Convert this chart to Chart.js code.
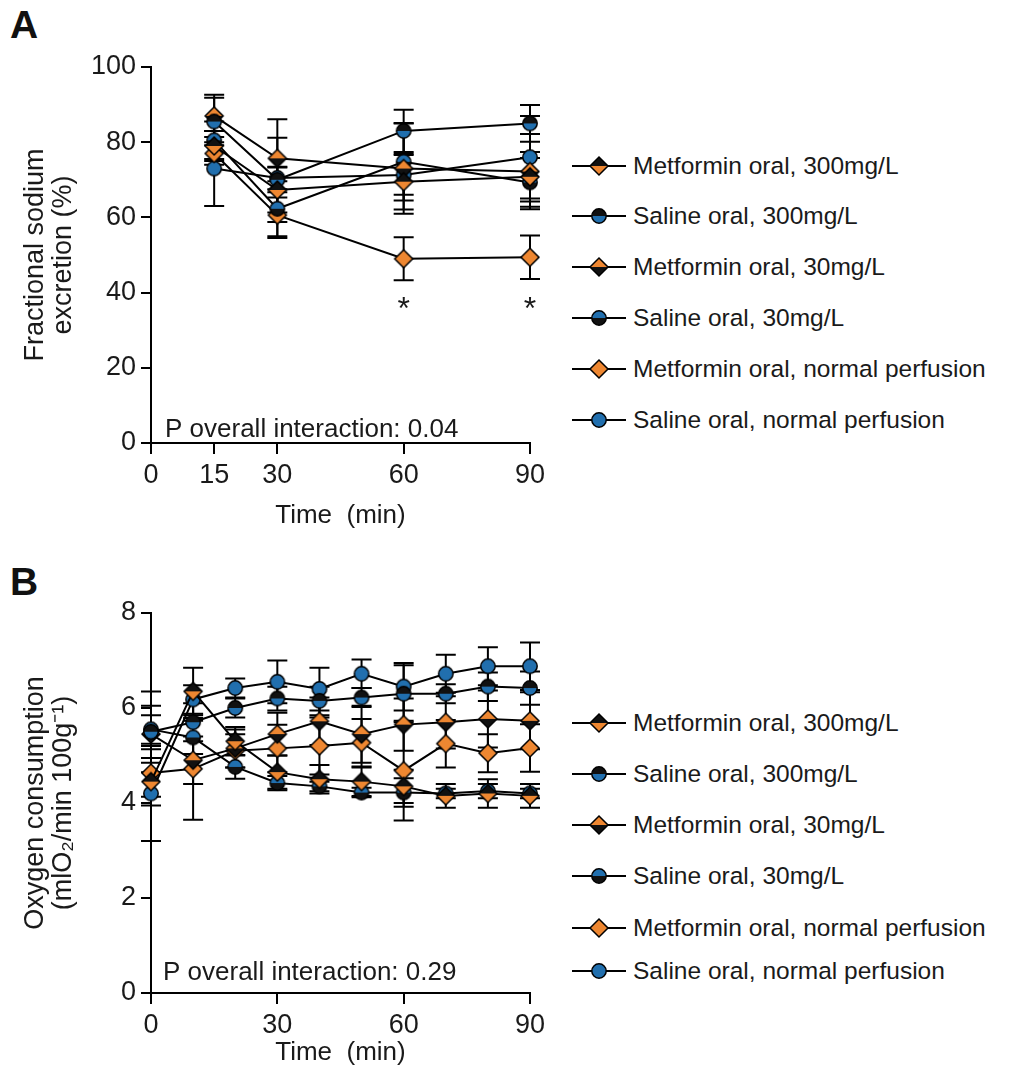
<!DOCTYPE html>
<html>
<head>
<meta charset="utf-8">
<script src="https://cdn.jsdelivr.net/npm/chart.js@4.4.1/dist/chart.umd.min.js"></script>
<style>
  body { margin: 0; background: #fff; }
  #page { position: relative; width: 1023px; height: 1078px; overflow: hidden; font-family: "Liberation Sans", Arial, sans-serif; color: #1a1a1a; }
  .panel-letter { position: absolute; left: 10px; font-weight: bold; font-size: 39px; line-height: 39px; color: #111; }
  .chart-box { position: absolute; left: 0; }
  .legend-row { position: absolute; left: 572px; height: 30px; }
  .legend-row canvas { position: absolute; left: 0; top: 0; }
  .legend-row span { position: absolute; left: 61px; top: 0; line-height: 30px; font-size: 24.5px; white-space: nowrap; }
</style>
</head>
<body>
<div id="page">
  <div class="panel-letter" style="top:5px">A</div>
  <div class="panel-letter" style="top:562px">B</div>
  <div class="chart-box" style="top:0"><canvas id="chartA" width="560" height="545"></canvas></div>
  <div class="chart-box" style="top:540px"><canvas id="chartB" width="560" height="538"></canvas></div>
  <div id="legendA"></div>
  <div id="legendB"></div>
</div>
<script>
// ---- data: panel A, fractional sodium excretion (%) ----
const timesA = [15, 30, 60, 90];
const xTicksA = [0, 15, 30, 60, 90];
const metf300A = [79, 67.3, 69.5, 70.8];
const sal300A = [85.5, 70, 83, 85];
const metf30A = [87, 75.7, 73, 72.2];
const sal30A = [80.5, 62.3, 74.8, 69.3];
const metfNormA = [77, 60.6, 49, 49.4];
const salNormA = [73, 70.5, 71.3, 76];
// SEM
const metf300ErrA = [4, 6, 7.4, 6.6];
const sal300ErrA = [6.3, 11.2, 5.6, 4.9];
const metf30ErrA = [5.6, 10.4, 12, 10];
const sal30ErrA = [5, 7.3, 10.3, 6.5];
const metfNormErrA = [3, 6.1, 5.7, 5.8];
const salNormErrA = [10, 3, 5.3, 11];
const starTimesA = [60, 90];
const starValueA = 33;

// ---- data: panel B, oxygen consumption ----
const timesB = [0, 10, 20, 30, 40, 50, 60, 70, 80, 90];
const metf300B = [4.45, 6.35, 5.3, 4.65, 4.5, 4.45, 4.35, 4.15, 4.2, 4.15];
const sal300B = [5.5, 5.7, 6.0, 6.2, 6.15, 6.22, 6.3, 6.3, 6.45, 6.42];
const metf30B = [5.45, 4.9, 5.15, 5.45, 5.72, 5.45, 5.65, 5.7, 5.77, 5.73];
const sal30B = [5.55, 5.38, 4.76, 4.42, 4.35, 4.22, 4.22, 4.2, 4.25, 4.2];
const metfNormB = [4.63, 4.72, 5.1, 5.15, 5.2, 5.27, 4.68, 5.25, 5.05, 5.16];
const salNormB = [4.2, 6.18, 6.42, 6.55, 6.4, 6.72, 6.45, 6.72, 6.88, 6.88];
const metf300ErrB = [0.5, 0.5, 0.3, 0.35, 0.3, 0.3, 0.35, 0.25, 0.3, 0.25];
const sal300ErrB = [0.85, 0.4, 0.2, 0.25, 0.3, 0.2, 0.6, 0.2, 0.3, 0.35];
const metf30ErrB = [0.6, 0.5, 0.4, 0.45, 0.5, 0.6, 0.55, 0.55, 0.6, 0.6];
const sal30ErrB = [0.3, 0.35, 0.25, 0.15, 0.1, 0.1, 0.3, 0.1, 0.15, 0.1];
const metfNormErrB = [0.5, 1.07, 0.35, 0.5, 0.6, 0.5, 1.05, 0.5, 0.4, 0.5];
const salNormErrB = [1.0, 0.3, 0.2, 0.45, 0.45, 0.3, 0.5, 0.4, 0.4, 0.5];

const labels = [
  'Metformin oral, 300mg/L',
  'Saline oral, 300mg/L',
  'Metformin oral, 30mg/L',
  'Saline oral, 30mg/L',
  'Metformin oral, normal perfusion',
  'Saline oral, normal perfusion',
];

const ORANGE = '#ee8731';
const BLUE = '#216fae';
const BLACK = '#111';
const FONT = '"Liberation Sans", Arial, sans-serif';
const TEXT = '#1a1a1a';

// marker look for each series, legend order
const markers = [
  { shape: 'diamond', top: BLACK, bottom: ORANGE },
  { shape: 'circle', top: BLACK, bottom: BLUE },
  { shape: 'diamond', top: ORANGE, bottom: BLACK },
  { shape: 'circle', top: BLUE, bottom: BLACK },
  { shape: 'diamond', top: ORANGE, bottom: ORANGE },
  { shape: 'circle', top: BLUE, bottom: BLUE },
];

function drawMarker(ctx, cx, cy, m) {
  ctx.lineWidth = 1.5;
  ctx.strokeStyle = '#000';
  if (m.shape === 'circle') {
    const r = 7.2;
    ctx.beginPath(); ctx.arc(cx, cy, r, Math.PI, 2 * Math.PI); ctx.closePath();
    ctx.fillStyle = m.top; ctx.fill();
    ctx.beginPath(); ctx.arc(cx, cy, r, 0, Math.PI); ctx.closePath();
    ctx.fillStyle = m.bottom; ctx.fill();
    ctx.beginPath(); ctx.arc(cx, cy, r, 0, 2 * Math.PI); ctx.stroke();
  } else {
    const h = 9;
    ctx.beginPath(); ctx.moveTo(cx - h, cy); ctx.lineTo(cx, cy - h); ctx.lineTo(cx + h, cy); ctx.closePath();
    ctx.fillStyle = m.top; ctx.fill();
    ctx.beginPath(); ctx.moveTo(cx - h, cy); ctx.lineTo(cx, cy + h); ctx.lineTo(cx + h, cy); ctx.closePath();
    ctx.fillStyle = m.bottom; ctx.fill();
    ctx.beginPath(); ctx.moveTo(cx - h, cy); ctx.lineTo(cx, cy - h); ctx.lineTo(cx + h, cy); ctx.lineTo(cx, cy + h); ctx.closePath();
    ctx.stroke();
  }
}

function pointImage(m) {
  const c = document.createElement('canvas');
  c.width = 22; c.height = 22;
  drawMarker(c.getContext('2d'), 11, 11, m);
  return c;
}

function buildLegend(id, rows) {
  const box = document.getElementById(id);
  rows.forEach((cy, i) => {
    const row = document.createElement('div');
    row.className = 'legend-row';
    row.style.top = (cy - 15) + 'px';
    const c = document.createElement('canvas');
    c.width = 56; c.height = 30;
    const ctx = c.getContext('2d');
    ctx.strokeStyle = '#000'; ctx.lineWidth = 2;
    ctx.beginPath(); ctx.moveTo(0, 15); ctx.lineTo(54, 15); ctx.stroke();
    drawMarker(ctx, 27, 15, markers[i]);
    const s = document.createElement('span');
    s.textContent = labels[i];
    row.appendChild(c); row.appendChild(s);
    box.appendChild(row);
  });
}

// error bars drawn behind lines and markers
const errorBars = {
  id: 'errorBars',
  beforeDatasetsDraw(chart) {
    const { ctx, scales: { x, y } } = chart;
    ctx.save();
    ctx.strokeStyle = '#000';
    ctx.lineWidth = 2;
    chart.data.datasets.forEach(ds => {
      ds.data.forEach((p, j) => {
        const e = ds.errors[j];
        const px = x.getPixelForValue(p.x);
        const hi = y.getPixelForValue(p.y + e);
        const lo = y.getPixelForValue(p.y - e);
        ctx.beginPath();
        ctx.moveTo(px, hi); ctx.lineTo(px, lo);
        ctx.moveTo(px - 10, hi); ctx.lineTo(px + 10, hi);
        ctx.moveTo(px - 10, lo); ctx.lineTo(px + 10, lo);
        ctx.stroke();
      });
    });
    ctx.restore();
  }
};

// p-value note and significance stars
const notes = {
  id: 'notes',
  afterDraw(chart, args, opts) {
    const { ctx, chartArea, scales: { x, y } } = chart;
    ctx.save();
    ctx.fillStyle = TEXT;
    ctx.font = '26px ' + FONT;
    ctx.textBaseline = 'alphabetic';
    ctx.textAlign = 'left';
    ctx.fillText(opts.text, chartArea.left + opts.dx, chartArea.bottom - opts.dy);
    ctx.textAlign = 'center';
    ctx.font = '32px ' + FONT;
    (opts.stars || []).forEach(t => {
      ctx.fillText('*', x.getPixelForValue(t), y.getPixelForValue(opts.starValue));
    });
    ctx.restore();
  }
};

function makeDatasets(times, series, errs) {
  return series.map((vals, i) => ({
    label: labels[i],
    data: vals.map((v, j) => ({ x: times[j], y: v })),
    errors: errs[i],
    borderColor: '#000',
    borderWidth: 2,
    tension: 0,
    fill: false,
    pointStyle: pointImage(markers[i]),
    clip: false,
  }));
}

function axisCommon() {
  return {
    grid: { display: true, drawOnChartArea: false, drawTicks: true, tickLength: 10, tickWidth: 2, tickColor: '#000', color: '#000', lineWidth: 2 },
    border: { display: true, color: '#000', width: 2 },
    ticks: { color: TEXT, font: { size: 27, family: FONT }, maxRotation: 0, autoSkip: false },
  };
}

function makeChart(id, cfg) {
  const xAxis = axisCommon();
  const yAxis = axisCommon();
  return new Chart(document.getElementById(id), {
    type: 'line',
    data: { datasets: makeDatasets(cfg.times, cfg.series, cfg.errs) },
    options: {
      responsive: false,
      animation: false,
      layout: { padding: { left: 0, top: cfg.top, right: 30, bottom: 0 } },
      plugins: { legend: { display: false }, tooltip: { enabled: false }, notes: cfg.notes },
      scales: {
        x: {
          ...xAxis,
          type: 'linear', min: 0, max: 90,
          grid: { ...xAxis.grid, tickLength: 11 },
          ticks: { ...xAxis.ticks, padding: 5, stepSize: 30 },
          afterBuildTicks: s => { if (cfg.xTicks) s.ticks = cfg.xTicks.map(v => ({ value: v })); },
          afterFit: s => { s.height = cfg.xHeight; },
          title: { display: true, text: 'Time  (min)', color: TEXT, font: { size: 26, family: FONT }, padding: { top: 0, bottom: cfg.titlePad } },
        },
        y: {
          ...yAxis,
          min: cfg.yMin, max: cfg.yMax,
          ticks: { ...yAxis.ticks, stepSize: cfg.yStep, padding: 5 },
          afterFit: s => { s.width = 151; },
          title: { display: true, text: cfg.yTitle, color: TEXT, font: { size: 27, family: FONT, lineHeight: 1.02 }, padding: { top: 22, bottom: 0 } },
        },
      },
    },
    plugins: [errorBars, notes],
  });
}

makeChart('chartA', {
  times: timesA,
  xTicks: xTicksA,
  series: [metf300A, sal300A, metf30A, sal30A, metfNormA, salNormA],
  errs: [metf300ErrA, sal300ErrA, metf30ErrA, sal30ErrA, metfNormErrA, salNormErrA],
  top: 67, xHeight: 102, titlePad: 14,
  yMin: 0, yMax: 100, yStep: 20,
  yTitle: ['Fractional sodium', 'excretion (%)'],
  notes: { text: 'P overall interaction: 0.04', dx: 14, dy: 6, stars: starTimesA, starValue: starValueA },
});

makeChart('chartB', {
  times: timesB,
  xTicks: null,
  series: [metf300B, sal300B, metf30B, sal30B, metfNormB, salNormB],
  errs: [metf300ErrB, sal300ErrB, metf30ErrB, sal30ErrB, metfNormErrB, salNormErrB],
  top: 73, xHeight: 85, titlePad: 10,
  yMin: 0, yMax: 8, yStep: 2,
  yTitle: ['Oxygen consumption', '(mlO\u2082/min 100g\u207B\u00B9)'],
  notes: { text: 'P overall interaction: 0.29', dx: 12, dy: 13 },
});

buildLegend('legendA', [166, 216, 267, 318, 369, 420]);
buildLegend('legendB', [723, 774, 825, 876, 928, 971]);
</script>
</body>
</html>
